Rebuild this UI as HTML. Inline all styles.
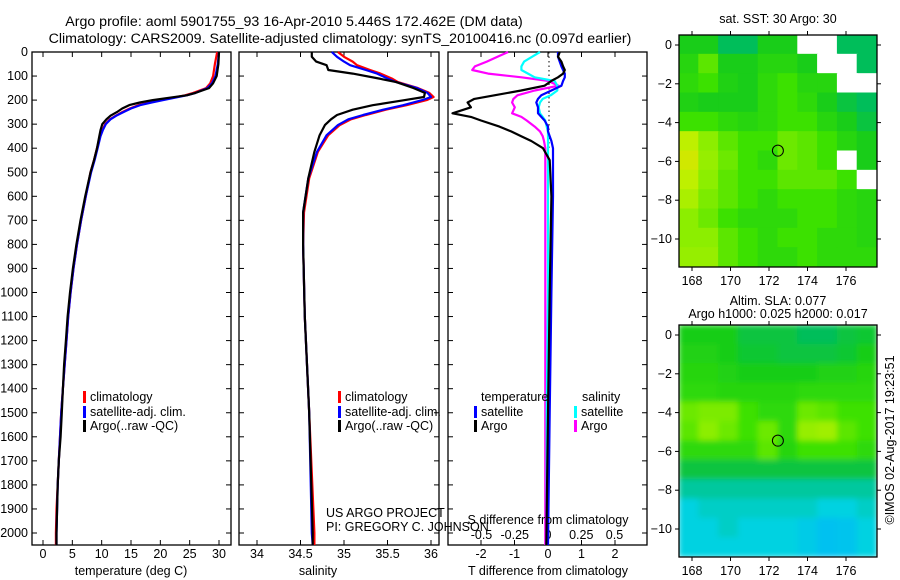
<!DOCTYPE html>
<html><head><meta charset="utf-8"><style>
body{margin:0;background:#fff;}
svg{display:block;font-family:"Liberation Sans",sans-serif;}
text{font-size:12.5px;fill:#000;}
.big{font-size:14.2px;}
</style></head><body>
<svg id="s" width="900" height="580" viewBox="0 0 900 580">
<text class="big" x="294" y="26" text-anchor="middle">Argo profile: aoml 5901755_93 16-Apr-2010 5.446S 172.462E (DM data)</text>
<text class="big" x="340" y="43" text-anchor="middle">Climatology: CARS2009. Satellite-adjusted climatology: synTS_20100416.nc (0.097d earlier)</text>
<text x="778" y="23" text-anchor="middle">sat. SST: 30 Argo: 30</text>
<text x="778" y="305" text-anchor="middle">Altim. SLA: 0.077</text>
<text x="778" y="318" text-anchor="middle">Argo h1000: 0.025 h2000: 0.017</text>
<text transform="translate(894,440) rotate(-90)" text-anchor="middle">©IMOS 02-Aug-2017 19:23:51</text>
<text x="326" y="517">US ARGO PROJECT</text>
<text x="326" y="531">PI: GREGORY C. JOHNSON</text>
<g id="g"></g>
</svg>
<script>
// ---- data ----
const tDepth=[0,50,100,130,150,170,180,190,200,210,220,235,250,265,280,300,325,350,400,450,500,600,700,800,900,1000,1100,1200,1300,1400,1500,1600,1700,1800,1900,2000,2050];
const tSat=[30,29.8,29.4,28.8,28,26,24.5,22.5,20.5,18.5,16.7,15,13.7,12.5,11.5,10.7,10.2,9.8,9.3,8.8,8.2,7.3,6.5,5.8,5.2,4.7,4.3,4.0,3.7,3.4,3.1,2.9,2.7,2.5,2.4,2.3,2.3];
const tClim=[29.7,29.3,29.0,28.5,27.8,25.6,24.2,22.2,20.2,18.2,16.4,14.8,13.5,12.4,11.4,10.6,10.1,9.7,9.2,8.7,8.1,7.3,6.5,5.8,5.2,4.7,4.3,4.0,3.7,3.4,3.1,2.9,2.7,2.5,2.3,2.2,2.2];
const tArgo=[30,29.9,29.6,29,28.3,26,24.5,21.6,18.7,16.5,14.8,13.5,12.6,11.5,10.8,10.1,9.8,9.6,9.2,8.7,8.1,7.2,6.4,5.7,5.1,4.6,4.2,3.9,3.6,3.4,3.2,3.0,2.7,2.5,2.4,2.3,2.3];
const sDepth=[0,20,40,55,75,90,110,125,150,170,187,200,221,240,262,280,304,346,415,525,667,800,1100,1500,2000,2050];
const sSat=[34.86,34.92,35.0,35.07,35.25,35.38,35.5,35.6,35.84,35.96,36.0,35.9,35.68,35.45,35.22,35.05,34.93,34.8,34.69,34.59,34.53,34.53,34.55,34.6,34.63,34.64];
const sClim=[34.93,35.0,35.1,35.15,35.3,35.42,35.55,35.62,35.85,35.98,36.03,35.95,35.72,35.48,35.25,35.08,34.95,34.82,34.7,34.6,34.54,34.53,34.55,34.6,34.66,34.66];
const sArgo=[34.63,34.63,34.68,34.8,34.82,35.1,35.4,35.6,35.8,35.93,35.92,35.7,35.33,35.1,34.92,34.85,34.78,34.72,34.66,34.59,34.53,34.53,34.55,34.6,34.64,34.64];
const dDepth=[0,20,40,60,75,90,105,120,140,160,180,195,210,230,255,270,285,310,330,350,370,400,450,600,1000,1500,2050];
const dTArgo=[0.35,0.3,0.4,0.45,0.5,0.45,0.3,0.1,-0.1,-0.8,-1.6,-2.2,-2.4,-2.3,-2.85,-2.3,-2.0,-1.45,-1.1,-0.8,-0.5,-0.15,0.05,0.1,0.05,0.0,-0.05];
const dTSat=[0.3,0.3,0.35,0.4,0.45,0.5,0.5,0.45,0.4,0.1,-0.2,-0.3,-0.35,-0.3,-0.3,-0.2,-0.1,0.0,0.0,0.05,0.1,0.15,0.15,0.15,0.1,0.05,0.0];
const dSArgo=[-0.3,-0.38,-0.46,-0.55,-0.57,-0.45,-0.2,0.0,0.08,-0.1,-0.23,-0.26,-0.27,-0.25,-0.27,-0.2,-0.16,-0.1,-0.06,-0.04,-0.03,-0.02,-0.02,-0.02,-0.02,-0.02,-0.02];
const dSSat=[-0.06,-0.12,-0.18,-0.2,-0.2,-0.15,-0.1,0.05,0.07,0.07,0.02,-0.04,-0.06,-0.07,-0.06,-0.04,-0.02,-0.01,0,0,0,0,0,0,0,-0.01,-0.01];
const depthTicks=[0,100,200,300,400,500,600,700,800,900,1000,1100,1200,1300,1400,1500,1600,1700,1800,1900,2000];
const tTicks=[0,5,10,15,20,25,30];
const sTicks=[34,34.5,35,35.5,36];
const dtTicks=[-2,-1,0,1,2];
const dsTicks=[-0.5,-0.25,0,0.25,0.5];
const lonTicks=[168,170,172,174,176];
const latTicks=[0,-2,-4,-6,-8,-10];
const sstGrid=[
[.55,.55,.5,.5,.55,.55,-1,-1,.5,.5],
[.57,.62,.55,.55,.57,.57,.55,-1,-1,.5],
[.58,.6,.56,.55,.58,.6,.57,.57,-1,-1],
[.56,.55,.55,.55,.58,.6,.58,.55,.52,.5],
[.6,.6,.58,.57,.58,.6,.6,.57,.55,.52],
[.7,.65,.62,.6,.6,.63,.62,.6,.57,.55],
[.72,.66,.63,.6,.58,.63,.62,.6,-1,.55],
[.7,.65,.62,.6,.6,.62,.62,.62,.6,-1],
[.68,.64,.62,.6,.58,.6,.6,.6,.58,.57],
[.65,.63,.6,.58,.58,.58,.6,.6,.58,.57],
[.65,.65,.62,.6,.58,.6,.6,.58,.58,.57],
[.66,.66,.62,.6,.58,.58,.6,.58,.58,.58]];
const slaGrid=[
[.55,.55,.55,.52,.52,.52,.5,.5,.52,.53],
[.56,.56,.55,.53,.53,.52,.52,.52,.53,.55],
[.57,.57,.56,.55,.55,.55,.55,.56,.56,.57],
[.58,.58,.57,.57,.57,.57,.58,.58,.58,.58],
[.63,.64,.64,.6,.58,.58,.63,.62,.6,.6],
[.62,.65,.63,.6,.63,.58,.66,.67,.62,.6],
[.58,.58,.58,.58,.62,.57,.6,.6,.6,.58],
[.52,.52,.52,.52,.52,.52,.52,.52,.52,.52],
[.45,.45,.45,.45,.45,.45,.45,.45,.45,.45],
[.4,.42,.42,.42,.42,.42,.42,.4,.4,.42],
[.4,.4,.42,.4,.4,.4,.38,.35,.36,.4],
[.4,.4,.4,.4,.4,.4,.38,.35,.36,.4]];
const argoLon=172.462, argoLat=-5.446;

const NS='http://www.w3.org/2000/svg';
const G=document.getElementById('g');
function el(tag,attrs,parent){const e=document.createElementNS(NS,tag);for(const k in attrs)e.setAttribute(k,attrs[k]);(parent||G).appendChild(e);return e;}
const top0=52,bot=545;
function yD(d){return top0+d*0.2405;}
function xT(v){return 43+v*5.867;}
function xS(v){return 257+(v-34)*87;}
function xDT(v){return 548+v*33.5;}
function xDS(v){return 548+v*133;}

function frame(x0,x1,name){
  const r=el('rect',{x:x0,y:top0,width:x1-x0,height:bot-top0,fill:'none',stroke:'#000','stroke-width':1.3});
  
  
  depthTicks.forEach(d=>{const y=yD(d);
    el('line',{x1:x0,y1:y,x2:x0+5,y2:y,stroke:'#000'});
    el('line',{x1:x1-5,y1:y,x2:x1,y2:y,stroke:'#000'});});
}
function xticks(vals,fx,x0,ly,fmt){vals.forEach(v=>{const x=fx(v);
  el('line',{x1:x,y1:top0,x2:x,y2:top0+5,stroke:'#000'});
  el('line',{x1:x,y1:bot-5,x2:x,y2:bot,stroke:'#000'});
  const t=el('text',{x:x,y:ly,'text-anchor':'middle'});t.textContent=fmt?fmt(v):String(v);
  
  });}
function line(depths,vals,fx,color,name,w){
  const pts=depths.map((d,i)=>fx(vals[i]).toFixed(1)+','+yD(d).toFixed(1)).join(' ');
  const p=el('polyline',{points:pts,fill:'none',stroke:color,'stroke-width':w||2.2,'stroke-linejoin':'round'});
  
  
}
function label(x,y,txt,name,anchor){const t=el('text',{x:x,y:y,'text-anchor':anchor||'start'});t.textContent=txt;
  
  return t;}

// panel 1
frame(32,231,'temperature-panel');
depthTicks.forEach(d=>{label(28,yD(d)+4,String(d),'depth-tick-label','end');});
xticks(tTicks,xT,32,558);
line(tDepth,tClim,xT,'#f00','temp-climatology-line');
line(tDepth,tSat,xT,'#00f','temp-satellite-line');
line(tDepth,tArgo,xT,'#000','temp-argo-line');
label(131,575,'temperature (deg C)','temperature-axis-title','middle');
[['#f00','climatology',401],['#00f','satellite-adj. clim.',416],['#000','Argo(..raw -QC)',430]].forEach(a=>{
  el('rect',{x:83,y:a[2]-10,width:3,height:12,fill:a[0]});label(90,a[2],a[1],'legend-entry');});

// panel 2
frame(239,439,'salinity-panel');
xticks(sTicks,xS,239,558);
line(sDepth,sClim,xS,'#f00','sal-climatology-line');
line(sDepth,sSat,xS,'#00f','sal-satellite-line');
line(sDepth,sArgo,xS,'#000','sal-argo-line');
label(318,575,'salinity','salinity-axis-title','middle');
[['#f00','climatology',401],['#00f','satellite-adj. clim.',416],['#000','Argo(..raw -QC)',430]].forEach(a=>{
  el('rect',{x:338,y:a[2]-10,width:3,height:12,fill:a[0]});label(345,a[2],a[1],'legend-entry');});

// panel 3
frame(448,647,'difference-panel');
el('line',{x1:549,y1:top0,x2:549,y2:yD(400),stroke:'#000','stroke-dasharray':'1.5,3'});
xticks(dtTicks,xDT,448,558);
dsTicks.forEach(v=>{label(xDS(v),539,String(v),'s-tick-label','middle');});
line(dDepth,dSArgo,xDS,'#f0f','sdiff-argo-line');
line(dDepth,dSSat,xDS,'#0ff','sdiff-satellite-line');
line(dDepth,dTSat,xDT,'#00f','tdiff-satellite-line');
line(dDepth,dTArgo,xDT,'#000','tdiff-argo-line');
label(548,524,'S difference from climatology','s-diff-axis-title','middle');
label(548,575,'T difference from climatology','t-diff-axis-title','middle');
label(481,401,'temperature','legend-header');
label(582,401,'salinity','legend-header');
[['#00f','satellite',416,474],['#000','Argo',430,474],['#0ff','satellite',416,574],['#f0f','Argo',430,574]].forEach(a=>{
  el('rect',{x:a[3],y:a[2]-10,width:3,height:12,fill:a[0]});label(a[3]+7,a[2],a[1],'legend-entry');});

// maps
const stops=[[.3,[0,175,255]],[.4,[0,210,225]],[.5,[0,190,90]],[.55,[25,205,25]],[.6,[60,225,0]],[.65,[140,238,0]],[.7,[190,240,0]],[.75,[235,220,0]],[.85,[255,100,0]]];
function cmap(v){if(v<=stops[0][0])return 'rgb('+stops[0][1]+')';
  for(let i=1;i<stops.length;i++){if(v<=stops[i][0]){const a=stops[i-1],b=stops[i],f=(v-a[0])/(b[0]-a[0]);
    return 'rgb('+a[1].map((c,j)=>Math.round(c+(b[1][j]-c)*f)).join(',')+')';}}
  return 'rgb('+stops[stops.length-1][1]+')';}
function map(gy0,gy1,lat0y,grid,name,blur){
  const x0=679,x1=877;
  function xL(l){return 692+(l-168)*19.25;}
  function yL(l){return lat0y-l*19.4;}
  const lonMin=(x0-692)/19.25+168, lonMax=(x1-692)/19.25+168;
  const latMax=(lat0y-gy0)/19.4, latMin=(lat0y-gy1)/19.4;
  const cw=(lonMax-lonMin)/grid[0].length, ch=(latMax-latMin)/grid.length;
  const cl=el('clipPath',{id:'c'+name});el('rect',{x:x0,y:gy0,width:x1-x0,height:gy1-gy0},cl);
  const g=el('g',{'clip-path':'url(#c'+name+')'});
  
  
  const inner=el('g',blur?{filter:'url(#bl)'}:{},g);
  grid.forEach((row,r)=>row.forEach((v,c)=>{
    const lx=lonMin+c*cw, ly=latMax-r*ch;
    el('rect',{x:xL(lx)-0.5,y:yL(ly)-0.5,width:cw*19.25+1,height:ch*19.4+1,fill:v<0?'#fff':cmap(v)},inner);}));
  el('rect',{x:x0,y:gy0,width:x1-x0,height:gy1-gy0,fill:'none',stroke:'#000','stroke-width':1.3});
  lonTicks.forEach(l=>{const x=xL(l);el('line',{x1:x,y1:gy0-4,x2:x,y2:gy0,stroke:'#000'});el('line',{x1:x,y1:gy1,x2:x,y2:gy1+4,stroke:'#000'});
    label(x,gy1+18,String(l),'lon-tick-label','middle');});
  latTicks.forEach(l=>{const y=yL(l);el('line',{x1:x0-4,y1:y,x2:x0,y2:y,stroke:'#000'});el('line',{x1:x1,y1:y,x2:x1+4,y2:y,stroke:'#000'});
    label(x0-7,y+4,String(l).replace('-','\u2212'),'lat-tick-label','end');});
  const c=el('circle',{cx:xL(argoLon),cy:yL(argoLat),r:5.5,fill:'none',stroke:'#000','stroke-width':1});
  
  
}
const f=el('filter',{id:'bl',x:'-10%',y:'-10%',width:'120%',height:'120%'});el('feGaussianBlur',{stdDeviation:3},f);
map(35,267,45,sstGrid,'sst-map',false);
map(325,557,335,slaGrid,'sla-map',true);
</script>
</body></html>
